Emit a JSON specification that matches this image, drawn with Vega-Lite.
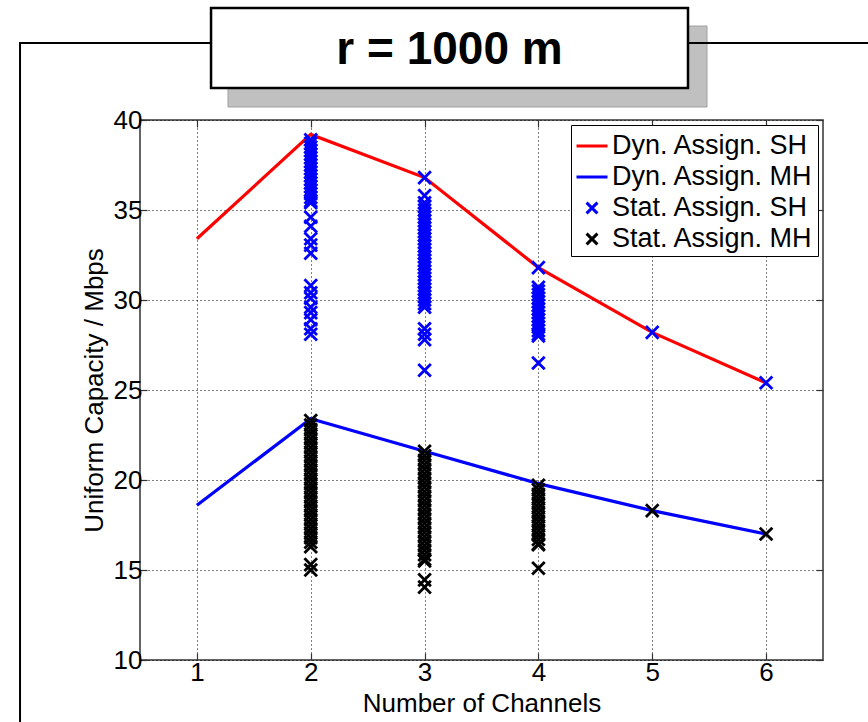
{
  "$schema": "https://vega.github.io/schema/vega-lite/v6.json",
  "width": 683,
  "height": 540,
  "autosize": {"type": "none"},
  "padding": {"left": 140, "top": 120, "right": 45, "bottom": 62},
  "background": "white",
  "config": {
    "font": "Liberation Sans",
    "view": {"stroke": "#333333", "strokeWidth": 1.5},
    "axis": {
      "domain": false,
      "labelFont": "Liberation Sans",
      "labelFontSize": 26,
      "labelColor": "#000000",
      "titleFont": "Liberation Sans",
      "titleFontWeight": "normal",
      "titleColor": "#000000",
      "tickColor": "#333333",
      "tickSize": -7,
      "tickWidth": 1.2,
      "gridColor": "#000000",
      "gridOpacity": 1,
      "gridDash": [1, 3],
      "gridWidth": 1
    },
    "legend": {
      "orient": "top-right",
      "offset": 5,
      "title": null,
      "labelFont": "Liberation Sans",
      "labelFontSize": 27,
      "labelColor": "#000000",
      "labelLimit": 400,
      "labelOffset": 3,
      "symbolSize": 961,
      "symbolStrokeWidth": 3,
      "rowPadding": 1,
      "padding": 4,
      "strokeColor": "#000000",
      "fillColor": "#ffffff"
    }
  },
  "datasets": {
    "dyn": [
      {"s": "Dyn. Assign. SH", "n": 1, "c": 33.4},
      {"s": "Dyn. Assign. SH", "n": 2, "c": 39.2},
      {"s": "Dyn. Assign. SH", "n": 3, "c": 36.8},
      {"s": "Dyn. Assign. SH", "n": 4, "c": 31.8},
      {"s": "Dyn. Assign. SH", "n": 5, "c": 28.2},
      {"s": "Dyn. Assign. SH", "n": 6, "c": 25.4},
      {"s": "Dyn. Assign. MH", "n": 1, "c": 18.6},
      {"s": "Dyn. Assign. MH", "n": 2, "c": 23.4},
      {"s": "Dyn. Assign. MH", "n": 3, "c": 21.6},
      {"s": "Dyn. Assign. MH", "n": 4, "c": 19.8},
      {"s": "Dyn. Assign. MH", "n": 5, "c": 18.3},
      {"s": "Dyn. Assign. MH", "n": 6, "c": 17.0}
    ],
    "stat": [
      {"s": "Stat. Assign. SH", "n": 2, "c": 38.9},
      {"s": "Stat. Assign. SH", "n": 2, "c": 38.7},
      {"s": "Stat. Assign. SH", "n": 2, "c": 38.5},
      {"s": "Stat. Assign. SH", "n": 2, "c": 38.3},
      {"s": "Stat. Assign. SH", "n": 2, "c": 38.1},
      {"s": "Stat. Assign. SH", "n": 2, "c": 37.9},
      {"s": "Stat. Assign. SH", "n": 2, "c": 37.7},
      {"s": "Stat. Assign. SH", "n": 2, "c": 37.5},
      {"s": "Stat. Assign. SH", "n": 2, "c": 37.3},
      {"s": "Stat. Assign. SH", "n": 2, "c": 37.1},
      {"s": "Stat. Assign. SH", "n": 2, "c": 36.9},
      {"s": "Stat. Assign. SH", "n": 2, "c": 36.7},
      {"s": "Stat. Assign. SH", "n": 2, "c": 36.5},
      {"s": "Stat. Assign. SH", "n": 2, "c": 36.3},
      {"s": "Stat. Assign. SH", "n": 2, "c": 36.1},
      {"s": "Stat. Assign. SH", "n": 2, "c": 35.9},
      {"s": "Stat. Assign. SH", "n": 2, "c": 35.7},
      {"s": "Stat. Assign. SH", "n": 2, "c": 35.5},
      {"s": "Stat. Assign. SH", "n": 2, "c": 35.4},
      {"s": "Stat. Assign. SH", "n": 2, "c": 34.6},
      {"s": "Stat. Assign. SH", "n": 2, "c": 34.1},
      {"s": "Stat. Assign. SH", "n": 2, "c": 33.4},
      {"s": "Stat. Assign. SH", "n": 2, "c": 33.05},
      {"s": "Stat. Assign. SH", "n": 2, "c": 32.6},
      {"s": "Stat. Assign. SH", "n": 2, "c": 30.8},
      {"s": "Stat. Assign. SH", "n": 2, "c": 30.4},
      {"s": "Stat. Assign. SH", "n": 2, "c": 30.1},
      {"s": "Stat. Assign. SH", "n": 2, "c": 29.6},
      {"s": "Stat. Assign. SH", "n": 2, "c": 29.3},
      {"s": "Stat. Assign. SH", "n": 2, "c": 28.9},
      {"s": "Stat. Assign. SH", "n": 2, "c": 28.4},
      {"s": "Stat. Assign. SH", "n": 2, "c": 28.1},
      {"s": "Stat. Assign. SH", "n": 3, "c": 36.8},
      {"s": "Stat. Assign. SH", "n": 3, "c": 35.8},
      {"s": "Stat. Assign. SH", "n": 3, "c": 35.4},
      {"s": "Stat. Assign. SH", "n": 3, "c": 35.2},
      {"s": "Stat. Assign. SH", "n": 3, "c": 35.0},
      {"s": "Stat. Assign. SH", "n": 3, "c": 34.8},
      {"s": "Stat. Assign. SH", "n": 3, "c": 34.6},
      {"s": "Stat. Assign. SH", "n": 3, "c": 34.4},
      {"s": "Stat. Assign. SH", "n": 3, "c": 34.2},
      {"s": "Stat. Assign. SH", "n": 3, "c": 34.0},
      {"s": "Stat. Assign. SH", "n": 3, "c": 33.8},
      {"s": "Stat. Assign. SH", "n": 3, "c": 33.6},
      {"s": "Stat. Assign. SH", "n": 3, "c": 33.4},
      {"s": "Stat. Assign. SH", "n": 3, "c": 33.2},
      {"s": "Stat. Assign. SH", "n": 3, "c": 33.0},
      {"s": "Stat. Assign. SH", "n": 3, "c": 32.8},
      {"s": "Stat. Assign. SH", "n": 3, "c": 32.6},
      {"s": "Stat. Assign. SH", "n": 3, "c": 32.4},
      {"s": "Stat. Assign. SH", "n": 3, "c": 32.2},
      {"s": "Stat. Assign. SH", "n": 3, "c": 32.0},
      {"s": "Stat. Assign. SH", "n": 3, "c": 31.8},
      {"s": "Stat. Assign. SH", "n": 3, "c": 31.6},
      {"s": "Stat. Assign. SH", "n": 3, "c": 31.4},
      {"s": "Stat. Assign. SH", "n": 3, "c": 31.2},
      {"s": "Stat. Assign. SH", "n": 3, "c": 31.0},
      {"s": "Stat. Assign. SH", "n": 3, "c": 30.8},
      {"s": "Stat. Assign. SH", "n": 3, "c": 30.6},
      {"s": "Stat. Assign. SH", "n": 3, "c": 30.4},
      {"s": "Stat. Assign. SH", "n": 3, "c": 30.2},
      {"s": "Stat. Assign. SH", "n": 3, "c": 30.0},
      {"s": "Stat. Assign. SH", "n": 3, "c": 29.8},
      {"s": "Stat. Assign. SH", "n": 3, "c": 29.6},
      {"s": "Stat. Assign. SH", "n": 3, "c": 28.4},
      {"s": "Stat. Assign. SH", "n": 3, "c": 28.1},
      {"s": "Stat. Assign. SH", "n": 3, "c": 27.8},
      {"s": "Stat. Assign. SH", "n": 3, "c": 26.1},
      {"s": "Stat. Assign. SH", "n": 4, "c": 31.8},
      {"s": "Stat. Assign. SH", "n": 4, "c": 30.7},
      {"s": "Stat. Assign. SH", "n": 4, "c": 30.5},
      {"s": "Stat. Assign. SH", "n": 4, "c": 30.3},
      {"s": "Stat. Assign. SH", "n": 4, "c": 30.1},
      {"s": "Stat. Assign. SH", "n": 4, "c": 29.9},
      {"s": "Stat. Assign. SH", "n": 4, "c": 29.7},
      {"s": "Stat. Assign. SH", "n": 4, "c": 29.5},
      {"s": "Stat. Assign. SH", "n": 4, "c": 29.3},
      {"s": "Stat. Assign. SH", "n": 4, "c": 29.1},
      {"s": "Stat. Assign. SH", "n": 4, "c": 28.9},
      {"s": "Stat. Assign. SH", "n": 4, "c": 28.7},
      {"s": "Stat. Assign. SH", "n": 4, "c": 28.5},
      {"s": "Stat. Assign. SH", "n": 4, "c": 28.3},
      {"s": "Stat. Assign. SH", "n": 4, "c": 28.1},
      {"s": "Stat. Assign. SH", "n": 4, "c": 28.0},
      {"s": "Stat. Assign. SH", "n": 4, "c": 26.5},
      {"s": "Stat. Assign. SH", "n": 5, "c": 28.2},
      {"s": "Stat. Assign. SH", "n": 6, "c": 25.4},
      {"s": "Stat. Assign. MH", "n": 2, "c": 23.3},
      {"s": "Stat. Assign. MH", "n": 2, "c": 23.05},
      {"s": "Stat. Assign. MH", "n": 2, "c": 22.8},
      {"s": "Stat. Assign. MH", "n": 2, "c": 22.55},
      {"s": "Stat. Assign. MH", "n": 2, "c": 22.3},
      {"s": "Stat. Assign. MH", "n": 2, "c": 22.05},
      {"s": "Stat. Assign. MH", "n": 2, "c": 21.8},
      {"s": "Stat. Assign. MH", "n": 2, "c": 21.55},
      {"s": "Stat. Assign. MH", "n": 2, "c": 21.3},
      {"s": "Stat. Assign. MH", "n": 2, "c": 21.05},
      {"s": "Stat. Assign. MH", "n": 2, "c": 20.8},
      {"s": "Stat. Assign. MH", "n": 2, "c": 20.55},
      {"s": "Stat. Assign. MH", "n": 2, "c": 20.3},
      {"s": "Stat. Assign. MH", "n": 2, "c": 20.05},
      {"s": "Stat. Assign. MH", "n": 2, "c": 19.8},
      {"s": "Stat. Assign. MH", "n": 2, "c": 19.55},
      {"s": "Stat. Assign. MH", "n": 2, "c": 19.3},
      {"s": "Stat. Assign. MH", "n": 2, "c": 19.05},
      {"s": "Stat. Assign. MH", "n": 2, "c": 18.8},
      {"s": "Stat. Assign. MH", "n": 2, "c": 18.55},
      {"s": "Stat. Assign. MH", "n": 2, "c": 18.3},
      {"s": "Stat. Assign. MH", "n": 2, "c": 18.05},
      {"s": "Stat. Assign. MH", "n": 2, "c": 17.8},
      {"s": "Stat. Assign. MH", "n": 2, "c": 17.55},
      {"s": "Stat. Assign. MH", "n": 2, "c": 17.3},
      {"s": "Stat. Assign. MH", "n": 2, "c": 17.05},
      {"s": "Stat. Assign. MH", "n": 2, "c": 16.8},
      {"s": "Stat. Assign. MH", "n": 2, "c": 16.55},
      {"s": "Stat. Assign. MH", "n": 2, "c": 16.3},
      {"s": "Stat. Assign. MH", "n": 2, "c": 15.3},
      {"s": "Stat. Assign. MH", "n": 2, "c": 15.0},
      {"s": "Stat. Assign. MH", "n": 3, "c": 21.6},
      {"s": "Stat. Assign. MH", "n": 3, "c": 21.35},
      {"s": "Stat. Assign. MH", "n": 3, "c": 21.1},
      {"s": "Stat. Assign. MH", "n": 3, "c": 20.85},
      {"s": "Stat. Assign. MH", "n": 3, "c": 20.6},
      {"s": "Stat. Assign. MH", "n": 3, "c": 20.35},
      {"s": "Stat. Assign. MH", "n": 3, "c": 20.1},
      {"s": "Stat. Assign. MH", "n": 3, "c": 19.85},
      {"s": "Stat. Assign. MH", "n": 3, "c": 19.6},
      {"s": "Stat. Assign. MH", "n": 3, "c": 19.35},
      {"s": "Stat. Assign. MH", "n": 3, "c": 19.1},
      {"s": "Stat. Assign. MH", "n": 3, "c": 18.85},
      {"s": "Stat. Assign. MH", "n": 3, "c": 18.6},
      {"s": "Stat. Assign. MH", "n": 3, "c": 18.35},
      {"s": "Stat. Assign. MH", "n": 3, "c": 18.1},
      {"s": "Stat. Assign. MH", "n": 3, "c": 17.85},
      {"s": "Stat. Assign. MH", "n": 3, "c": 17.6},
      {"s": "Stat. Assign. MH", "n": 3, "c": 17.35},
      {"s": "Stat. Assign. MH", "n": 3, "c": 17.1},
      {"s": "Stat. Assign. MH", "n": 3, "c": 16.85},
      {"s": "Stat. Assign. MH", "n": 3, "c": 16.6},
      {"s": "Stat. Assign. MH", "n": 3, "c": 16.35},
      {"s": "Stat. Assign. MH", "n": 3, "c": 16.1},
      {"s": "Stat. Assign. MH", "n": 3, "c": 15.85},
      {"s": "Stat. Assign. MH", "n": 3, "c": 15.6},
      {"s": "Stat. Assign. MH", "n": 3, "c": 15.5},
      {"s": "Stat. Assign. MH", "n": 3, "c": 14.45},
      {"s": "Stat. Assign. MH", "n": 3, "c": 14.05},
      {"s": "Stat. Assign. MH", "n": 4, "c": 19.7},
      {"s": "Stat. Assign. MH", "n": 4, "c": 19.45},
      {"s": "Stat. Assign. MH", "n": 4, "c": 19.2},
      {"s": "Stat. Assign. MH", "n": 4, "c": 18.95},
      {"s": "Stat. Assign. MH", "n": 4, "c": 18.7},
      {"s": "Stat. Assign. MH", "n": 4, "c": 18.45},
      {"s": "Stat. Assign. MH", "n": 4, "c": 18.2},
      {"s": "Stat. Assign. MH", "n": 4, "c": 17.95},
      {"s": "Stat. Assign. MH", "n": 4, "c": 17.7},
      {"s": "Stat. Assign. MH", "n": 4, "c": 17.45},
      {"s": "Stat. Assign. MH", "n": 4, "c": 17.2},
      {"s": "Stat. Assign. MH", "n": 4, "c": 16.95},
      {"s": "Stat. Assign. MH", "n": 4, "c": 16.7},
      {"s": "Stat. Assign. MH", "n": 4, "c": 16.45},
      {"s": "Stat. Assign. MH", "n": 4, "c": 16.4},
      {"s": "Stat. Assign. MH", "n": 4, "c": 15.1},
      {"s": "Stat. Assign. MH", "n": 5, "c": 18.3},
      {"s": "Stat. Assign. MH", "n": 6, "c": 17.0}
    ]
  },
  "layer": [
    {
      "data": {"values": [{}]},
      "mark": {"type": "rect", "fill": "#c0c0c0", "stroke": "#a0a0a0", "strokeWidth": 1},
      "encoding": {
        "x": {"datum": 1.273, "type": "quantitative", "axis": null},
        "x2": {"datum": 5.481},
        "y": {"datum": 45.222, "type": "quantitative", "axis": null},
        "y2": {"datum": 40.722}
      }
    },
    {
      "data": {"values": [{}]},
      "mark": {"type": "rect", "filled": false, "stroke": "#000000", "strokeWidth": 2},
      "encoding": {
        "x": {"datum": -0.554, "type": "quantitative", "axis": null},
        "x2": {"datum": 7.3},
        "y": {"datum": 44.278, "type": "quantitative", "axis": null},
        "y2": {"datum": 4.5}
      }
    },
    {
      "data": {"values": [{}]},
      "mark": {"type": "rect", "fill": "#ffffff", "stroke": "#000000", "strokeWidth": 2.5},
      "encoding": {
        "x": {"datum": 1.124, "type": "quantitative", "axis": null},
        "x2": {"datum": 5.314},
        "y": {"datum": 46.222, "type": "quantitative", "axis": null},
        "y2": {"datum": 41.778}
      }
    },
    {
      "data": {"values": [{}]},
      "mark": {
        "type": "text",
        "text": "r = 1000 m",
        "font": "Liberation Sans",
        "fontSize": 46,
        "fontWeight": "bold",
        "align": "center",
        "baseline": "middle",
        "color": "#000000"
      },
      "encoding": {
        "x": {"datum": 3.219, "type": "quantitative", "axis": null},
        "y": {"datum": 43.9, "type": "quantitative", "axis": null}
      }
    },
    {
      "data": {"name": "dyn"},
      "mark": {"type": "line", "strokeWidth": 3.2},
      "encoding": {
        "x": {
          "field": "n",
          "type": "quantitative",
          "scale": {"domain": [0.5, 6.5], "nice": false, "zero": false},
          "axis": {
            "orient": "bottom",
            "values": [1, 2, 3, 4, 5, 6],
            "grid": true,
            "title": "Number of Channels",
            "titleFontSize": 26,
            "titlePadding": 5,
            "labelPadding": 6
          }
        },
        "y": {
          "field": "c",
          "type": "quantitative",
          "scale": {"domain": [10, 40], "nice": false, "zero": false},
          "axis": {
            "orient": "left",
            "values": [10, 15, 20, 25, 30, 35, 40],
            "grid": true,
            "title": "Uniform Capacity / Mbps",
            "titleFontSize": 26,
            "titlePadding": 6,
            "labelPadding": 5
          }
        },
        "color": {
          "field": "s",
          "type": "nominal",
          "scale": {
            "domain": ["Dyn. Assign. SH", "Dyn. Assign. MH", "Stat. Assign. SH", "Stat. Assign. MH"],
            "range": ["#ff0000", "#0000ff", "#0000ff", "#000000"]
          }
        }
      }
    },
    {
      "data": {"name": "stat"},
      "mark": {"type": "point", "filled": false, "strokeWidth": 2.8, "size": 1296, "opacity": 1},
      "encoding": {
        "x": {
          "field": "n",
          "type": "quantitative",
          "axis": {"orient": "top", "values": [1, 2, 3, 4, 5, 6], "labels": false, "grid": false, "title": null}
        },
        "y": {
          "field": "c",
          "type": "quantitative",
          "axis": {"orient": "right", "values": [10, 15, 20, 25, 30, 35, 40], "labels": false, "grid": false, "title": null}
        },
        "color": {"field": "s", "type": "nominal"},
        "shape": {
          "field": "s",
          "type": "nominal",
          "scale": {
            "domain": ["Dyn. Assign. SH", "Dyn. Assign. MH", "Stat. Assign. SH", "Stat. Assign. MH"],
            "range": ["stroke", "stroke", "M-0.35,-0.35L0.35,0.35M-0.35,0.35L0.35,-0.35", "M-0.35,-0.35L0.35,0.35M-0.35,0.35L0.35,-0.35"]
          }
        }
      }
    }
  ],
  "resolve": {"axis": {"x": "independent", "y": "independent"}}
}
